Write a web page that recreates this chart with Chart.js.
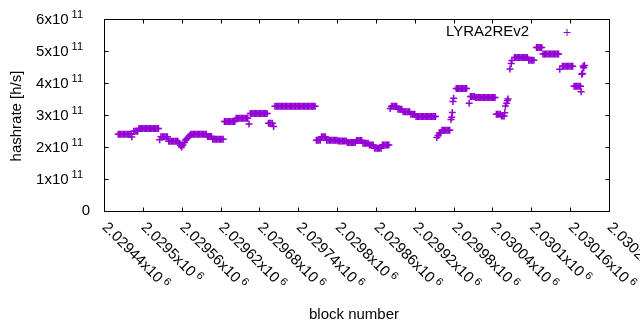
<!DOCTYPE html>
<html>
<head>
<meta charset="utf-8">
<script src="https://cdn.jsdelivr.net/npm/chart.js@4.4.0/dist/chart.umd.min.js"></script>
<style>
  html, body { margin: 0; padding: 0; background: #fff; }
</style>
</head>
<body>
<canvas id="chart" width="640" height="330"></canvas>
<script>
// block numbers are stored as offsets from the first x tick
const blockBase = 2029440

const blockOffset = [
  22,24,26,28,30,32,34,36,38,40,42,43,
  46,48,50,52,
  54,56,58,60,62,64,66,68,70,72,74,76,78,80,82,84,
  86,88,90,92,94,96,98,
  100,102,104,106,108,110,112,114,
  116,118,120,122,124,126,128,130,132,
  134,136,138,140,142,144,146,148,150,152,154,156,158,
  160,162,164,166,
  168,170,172,174,176,178,180,182,184,
  186,188,190,192,194,196,198,200,202,
  204,206,208,210,212,214,216,218,220,222,224,
  226,228,230,232,234,236,238,240,242,244,246,248,250,252,
  254,256,258,260,262,
  264,266,268,270,272,274,276,278,280,282,284,286,288,290,292,294,
  296,298,300,302,304,306,308,310,312,314,316,318,320,322,324,326,
  328,330,332,334,
  336,338,340,342,
  344,346,348,350,352,354,356,358,360,
  362,364,366,368,370,372,374,
  376,378,380,382,384,386,388,
  390,392,394,396,398,
  400,402,404,406,408,
  410,412,414,416,
  418,420,422,424,426,428,
  430,432,434,436,438,440,
  442,444,446,448,450,452,
  454,456,458,460,
  462,464,466,468,470,472,
  474,476,478,480,
  482,484,486,488,490,492,494,496,498,500,502,504,506,508,510,512,
  514,516,518,520,
  522,524,526,528,530,532,534,
  536,537,538,539,540,
  544,546,548,550,552,554,556,558,560,
  564,566,568,570,572,
  574,576,578,580,582,584,586,588,590,592,594,596,598,600,602,604,
  606,608,610,612,614,616,618,
  619,620,622,623,624,
  627,629,630,
  634,636,638,640,642,644,646,648,650,652,654,
  656,658,660,662,664,
  668,670,672,674,676,
  678,680,682,684,686,688,690,692,694,696,698,700,702,
  704,
  708,710,712,714,716,718,720,722,724,
  726,728,730,732,734,736,
  737,738,739,740,741,742
]

// hashrate in units of 10^11 h/s
const hashrate = [
  2.40,2.40,2.40,2.40,2.40,2.40,2.40,2.40,2.40,2.40,2.40,2.31,
  2.49,2.49,2.49,2.49,
  2.58,2.58,2.58,2.58,2.58,2.58,2.58,2.58,2.58,2.58,2.58,2.58,2.58,2.58,2.58,2.58,
  2.23,2.32,2.32,2.32,2.32,2.32,2.32,
  2.18,2.18,2.18,2.18,2.18,2.18,2.18,2.18,
  2.12,2.05,2.00,2.06,2.14,2.22,2.26,2.30,2.35,
  2.40,2.40,2.40,2.40,2.40,2.40,2.40,2.40,2.40,2.40,2.40,2.40,2.40,
  2.33,2.33,2.33,2.33,
  2.24,2.24,2.24,2.24,2.24,2.24,2.24,2.24,2.24,
  2.80,2.80,2.80,2.80,2.80,2.80,2.80,2.80,2.80,
  2.90,2.90,2.90,2.90,2.90,2.90,2.90,2.90,2.90,2.90,2.72,
  3.05,3.05,3.05,3.05,3.05,3.05,3.05,3.05,3.05,3.05,3.05,3.05,3.05,3.05,
  2.74,2.74,2.74,2.74,2.64,
  3.27,3.27,3.27,3.27,3.27,3.27,3.27,3.27,3.27,3.27,3.27,3.27,3.27,3.27,3.27,3.27,
  3.27,3.27,3.27,3.27,3.27,3.27,3.27,3.27,3.27,3.27,3.27,3.27,3.27,3.27,3.27,3.27,
  2.21,2.21,2.21,2.21,
  2.32,2.32,2.32,2.32,
  2.21,2.21,2.21,2.21,2.21,2.21,2.21,2.21,2.21,
  2.19,2.19,2.19,2.19,2.19,2.19,2.19,
  2.14,2.14,2.14,2.14,2.14,2.14,2.14,
  2.20,2.20,2.20,2.20,2.20,
  2.12,2.12,2.12,2.12,2.12,
  2.06,2.06,2.06,2.06,
  1.96,1.96,1.96,1.96,1.96,1.96,
  2.06,2.06,2.06,2.06,2.06,2.06,
  3.20,3.27,3.27,3.27,3.27,3.27,
  3.18,3.18,3.18,3.18,
  3.10,3.10,3.10,3.10,3.10,3.10,
  3.02,3.02,3.02,3.02,
  2.95,2.95,2.95,2.95,2.95,2.95,2.95,2.95,2.95,2.95,2.95,2.95,2.95,2.95,2.95,2.95,
  2.30,2.36,2.44,2.44,
  2.52,2.52,2.52,2.52,2.52,2.52,2.52,
  2.86,2.93,3.08,3.42,3.52,
  3.83,3.83,3.83,3.83,3.83,3.83,3.83,3.83,3.83,
  3.37,3.58,3.58,3.58,3.58,
  3.55,3.55,3.55,3.55,3.55,3.55,3.55,3.55,3.55,3.55,3.55,3.55,3.55,3.55,3.55,3.55,
  3.02,3.02,3.02,3.02,2.97,2.97,2.97,
  3.07,3.28,3.37,3.45,3.50,
  4.44,4.61,4.70,
  4.80,4.80,4.80,4.80,4.80,4.80,4.80,4.80,4.80,4.80,4.80,
  4.71,4.71,4.71,4.71,4.71,
  5.11,5.11,5.11,5.11,5.11,
  4.91,4.91,4.91,4.91,4.91,4.91,4.91,4.91,4.91,4.91,4.91,4.91,4.91,
  4.43,
  4.52,4.52,4.52,4.52,4.52,4.52,4.52,4.52,4.52,
  3.90,3.90,3.90,3.90,3.90,3.90,
  3.73,4.27,4.30,4.52,4.48,4.55
]

const xTickLabels = ['2.02944','2.0295','2.02956','2.02962','2.02968','2.02974','2.0298',
                     '2.02986','2.02992','2.02998','2.03004','2.0301','2.03016','2.0302']
const yTickLabels = ['0','1','2','3','4','5','6']
const seriesName = 'LYRA2REv2'

if (blockOffset.length !== hashrate.length) console.error('length mismatch', blockOffset.length, hashrate.length)

const purple = '#9400d3'
const font = '"Liberation Sans", Arial, sans-serif'

// gnuplot style frame, inward ticks, rotated labels and key
const gnuplotFrame = {
  id: 'gnuplotFrame',
  afterDraw(chart){
    const { ctx, chartArea: a, scales: { x, y } } = chart
    const L = Math.round(a.left) + 0.5, R = Math.round(a.right) + 0.5
    const T = Math.round(a.top) + 0.5, B = Math.round(a.bottom) + 0.5
    ctx.save()
    ctx.strokeStyle = '#000'
    ctx.lineWidth = 1
    ctx.strokeRect(L, T, R - L, B - T)

    ctx.beginPath()
    xTickLabels.forEach((lab, i) => {
      const px = Math.round(x.getPixelForValue(blockBase + i * 60)) + 0.5
      ctx.moveTo(px, B); ctx.lineTo(px, B - 4)
      ctx.moveTo(px, T); ctx.lineTo(px, T + 4)
    })
    yTickLabels.forEach((lab, i) => {
      const py = Math.round(y.getPixelForValue(i * 1e11)) + 0.5
      ctx.moveTo(L, py); ctx.lineTo(L + 4, py)
      ctx.moveTo(R, py); ctx.lineTo(R - 4, py)
    })
    ctx.stroke()

    ctx.fillStyle = '#000'
    // y tick labels
    yTickLabels.forEach((lab, i) => {
      const py = y.getPixelForValue(i * 1e11)
      if (lab === '0') {
        ctx.font = '15px ' + font
        ctx.textAlign = 'right'
        ctx.textBaseline = 'middle'
        ctx.fillText(lab, 90, py)
        return
      }
      ctx.font = '11px ' + font
      ctx.textAlign = 'right'
      ctx.textBaseline = 'alphabetic'
      ctx.fillText('11', 83, py - 1)
      const sw = ctx.measureText('11').width
      ctx.font = '15px ' + font
      ctx.fillText(lab + 'x10', 83 - sw - 3, py + 5)
    })

    // x tick labels, rotated down to the right
    xTickLabels.forEach((lab, i) => {
      const px = x.getPixelForValue(blockBase + i * 60)
      ctx.save()
      ctx.translate(px + 0.5, 225)
      ctx.rotate(Math.PI / 4)
      ctx.textAlign = 'left'
      ctx.textBaseline = 'middle'
      ctx.font = '15px ' + font
      const s = lab + 'x10'
      ctx.fillText(s, 0, 0)
      const w = ctx.measureText(s).width
      ctx.font = '11px ' + font
      ctx.fillText('6', w + 3, -4)
      ctx.restore()
    })

    // axis titles
    ctx.font = '15px ' + font
    ctx.textAlign = 'center'
    ctx.textBaseline = 'middle'
    ctx.fillText('block number', 354, 315)
    ctx.save()
    ctx.translate(17, 116)
    ctx.rotate(-Math.PI / 2)
    ctx.fillText('hashrate [h/s]', 0, 0)
    ctx.restore()

    // key
    ctx.textAlign = 'left'
    ctx.fillText(seriesName, 446, 32)
    ctx.strokeStyle = purple
    ctx.beginPath()
    ctx.moveTo(563.5, 32.5); ctx.lineTo(570.5, 32.5)
    ctx.moveTo(567, 29); ctx.lineTo(567, 36)
    ctx.stroke()
    ctx.restore()
  }
}

new Chart(document.getElementById('chart'), {
  type: 'scatter',
  data: {
    datasets: [{
      label: seriesName,
      data: blockOffset.map((o, i) => ({ x: blockBase + o, y: hashrate[i] * 1e11 })),
      pointStyle: 'cross',
      pointRadius: 3.5,
      pointHoverRadius: 3.5,
      borderColor: purple,
      backgroundColor: purple,
      borderWidth: 1.5,
      showLine: false
    }]
  },
  options: {
    responsive: false,
    animation: false,
    layout: { padding: { top: 19, right: 31, left: 0, bottom: 0 } },
    plugins: { legend: { display: false }, tooltip: { enabled: false } },
    scales: {
      x: {
        type: 'linear',
        min: 2029440,
        max: 2030220,
        grid: { display: false },
        border: { display: false },
        ticks: { display: false, stepSize: 60 },
        afterFit(scale){ scale.height = 119 }
      },
      y: {
        min: 0,
        max: 6e11,
        grid: { display: false },
        border: { display: false },
        ticks: { display: false, stepSize: 1e11 },
        afterFit(scale){ scale.width = 104 }
      }
    }
  },
  plugins: [gnuplotFrame]
})
</script>
</body>
</html>
